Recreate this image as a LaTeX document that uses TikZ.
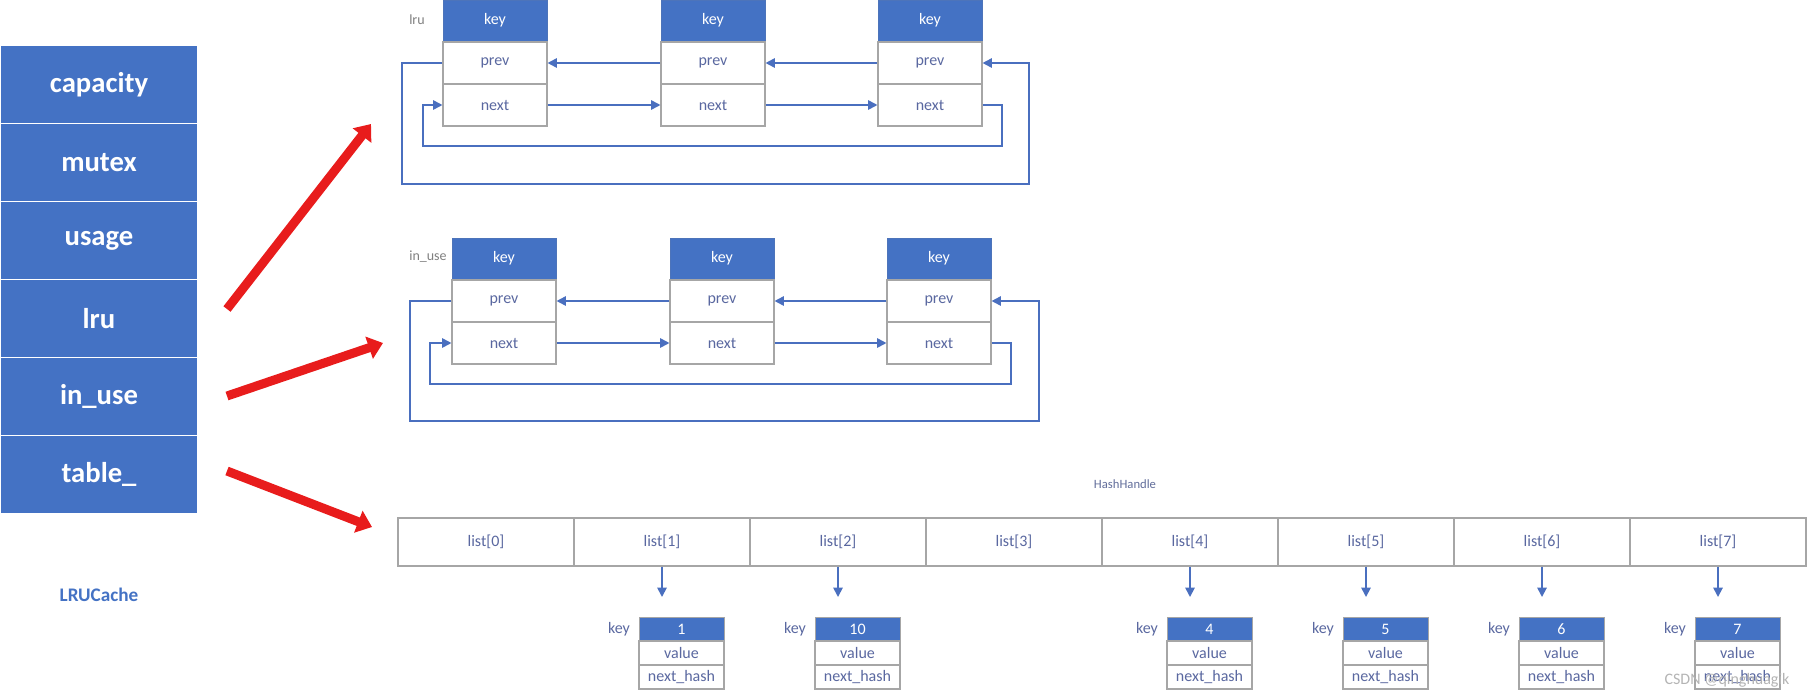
\documentclass[tikz,border=0pt]{standalone}
\usepackage{fontspec}
\setmainfont{Carlito}
\usetikzlibrary{arrows.meta}
\definecolor{boxblue}{HTML}{4472C4}
\definecolor{linkblue}{HTML}{4A6FBF}
\definecolor{cellgray}{HTML}{A6A6A6}
\definecolor{txt}{HTML}{5A68A0}
\definecolor{lbl}{HTML}{7F7F7F}
\definecolor{arrred}{HTML}{E81C1C}
\definecolor{wmark}{HTML}{B4B4B4}
\newcommand{\listnode}[3]{%
  \node[keyhead] (#1k) at (#2,#3+20.5) {key};
  \node[ptr] (#1p) at (#2,#3+63) {prev};
  \node[ptr] (#1n) at (#2,#3+105) {next};
}
\newcommand{\hentry}[3]{%
  \node[hkey] (#1k) at (#2,629) {#3};
  \node[hfield] (#1v) at (#2,653) {value};
  \node[hfield] (#1n) at (#2,677) {next\_hash};
  \node[hlabel] (#1l) at (#2-62.5,629) {key};
}
\begin{document}
\begin{tikzpicture}[x=0.75pt,y=-0.75pt,
  field/.style={fill=boxblue,draw=white,line width=1.2pt,minimum width=148.5pt,minimum height=58.5pt,inner sep=0pt,text=white,font=\fontsize{21.5}{24}\selectfont\bfseries},
  keyhead/.style={fill=boxblue,draw=boxblue!85!gray,line width=0.6pt,minimum width=78pt,minimum height=30.75pt,inner sep=0pt,text=white,font=\fontsize{12}{14}\selectfont},
  ptr/.style={fill=white,draw=cellgray,line width=0.8pt,minimum width=78pt,minimum height=31.5pt,inner sep=0pt,text=txt,font=\fontsize{12}{14}\selectfont},
  link/.style={draw=linkblue,line width=1.3pt,-{Triangle[length=7pt,width=7pt]}},
  bucket/.style={fill=white,draw=cellgray,line width=0.8pt,minimum width=132pt,minimum height=36pt,inner sep=0pt,text=txt,font=\fontsize{12}{14}\selectfont},
  hkey/.style={fill=boxblue,draw=cellgray,line width=0.6pt,minimum width=63.75pt,minimum height=18pt,inner sep=0pt,text=white,font=\fontsize{12}{14}\selectfont},
  hfield/.style={fill=white,draw=cellgray,line width=0.8pt,minimum width=63.75pt,minimum height=18pt,inner sep=0pt,text=txt,font=\fontsize{12}{14}\selectfont},
  hlabel/.style={text=txt,inner sep=0pt,font=\fontsize{12}{14}\selectfont},
  tag/.style={text=lbl,inner sep=0pt,font=\fontsize{10.5}{12}\selectfont},
  bigarrow/.style={draw=arrred,line width=6.75pt,-{Triangle[length=11pt,width=17pt]}}
]
\useasboundingbox (0,0) rectangle (1808,696);

% LRUCache fields
\node[field] (capacity) at (99,84.5) {capacity};
\node[field] (mutex) at (99,162.5) {mutex};
\node[field] (usage) at (99,240.5) {usage};
\node[field] (lru) at (99,318.5) {lru};
\node[field] (inuse) at (99,396.5) {in\_use};
\node[field] (table) at (99,474.5) {table\_};
\node[text=boxblue,inner sep=0pt,font=\fontsize{14.4}{16}\selectfont\bfseries] (cachename) at (99,595) {LRUCache};

% lru list
\node[tag] (lrulabel) at (417,20) {lru};
\listnode{A1}{495}{0}
\listnode{A2}{713}{0}
\listnode{A3}{930}{0}
\draw[link] (A2p.west) -- (A1p.east);
\draw[link] (A3p.west) -- (A2p.east);
\draw[link] (A1n.east) -- (A2n.west);
\draw[link] (A2n.east) -- (A3n.west);
\coordinate (Aol) at (402,184);
\coordinate (Aor) at (1029,184);
\coordinate (Ail) at (423,146);
\coordinate (Air) at (1002,146);
\draw[link] (A1p.west) -| (Aol) -- (Aor) |- (A3p.east);
\draw[link] (A3n.east) -| (Air) -- (Ail) |- (A1n.west);

% in_use list
\node[tag] (inuselabel) at (428,257) {in\_use};
\listnode{B1}{504}{238}
\listnode{B2}{722}{238}
\listnode{B3}{939}{238}
\draw[link] (B2p.west) -- (B1p.east);
\draw[link] (B3p.west) -- (B2p.east);
\draw[link] (B1n.east) -- (B2n.west);
\draw[link] (B2n.east) -- (B3n.west);
\coordinate (Bol) at (410,421);
\coordinate (Bor) at (1039,421);
\coordinate (Bil) at (430,384);
\coordinate (Bir) at (1011,384);
\draw[link] (B1p.west) -| (Bol) -- (Bor) |- (B3p.east);
\draw[link] (B3n.east) -| (Bir) -- (Bil) |- (B1n.west);

% hash table
\node[text=txt!80!gray,inner sep=0pt,font=\fontsize{9.5}{11}\selectfont] (hh) at (1125,484) {HashHandle};
\foreach \i in {0,...,7}{
  \node[bucket] (b\i) at (486+176*\i,542) {list[\i]};
}
\foreach \i in {1,2,4,5,6,7}{
  \coordinate (d\i) at (486+176*\i,597);
  \draw[link] (b\i.south) -- (d\i);
}
\hentry{H1}{681.5}{1}
\hentry{H2}{857.5}{10}
\hentry{H4}{1209.5}{4}
\hentry{H5}{1385.5}{5}
\hentry{H6}{1561.5}{6}
\hentry{H7}{1737.5}{7}

% red arrows
\coordinate (r1s) at (227,309);
\coordinate (r1e) at (371,124);
\coordinate (r2s) at (227,396);
\coordinate (r2e) at (383,343);
\coordinate (r3s) at (227,471);
\coordinate (r3e) at (372,527);
\draw[bigarrow] (r1s) -- (r1e);
\draw[bigarrow] (r2s) -- (r2e);
\draw[bigarrow] (r3s) -- (r3e);

% watermark
\node[text=wmark,inner sep=0pt,font=\fontsize{12}{14}\selectfont] (wm) at (1727,680) {CSDN @qinghuagik};
\end{tikzpicture}
\end{document}
